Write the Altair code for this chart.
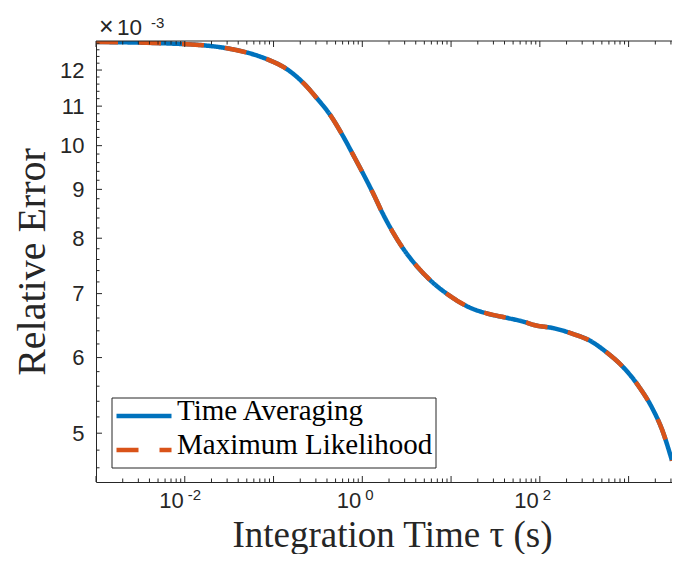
import altair as alt
import pandas as pd

# ---- data (relative error in units of 1e-3) ----
tau = [0.001, 0.00718, 0.01432, 0.0308, 0.0514, 0.0857, 0.137, 0.219, 0.308,
       0.434, 0.611, 0.789, 1.02, 1.32, 1.70, 2.19, 2.95, 4.16, 6.11, 9.33,
       15.6, 25.9, 43.4, 66.4, 85.8, 143, 239, 366, 560, 858, 1315, 1849,
       2388, 3083]
err_time_avg = [12.84, 12.79, 12.75, 12.64, 12.51, 12.31, 12.05, 11.62, 11.21,
                10.77, 10.22, 9.78, 9.35, 8.92, 8.49, 8.13, 7.78, 7.47, 7.20,
                6.98, 6.78, 6.67, 6.60, 6.54, 6.49, 6.44, 6.35, 6.25, 6.08,
                5.87, 5.59, 5.31, 5.04, 4.68]
err_max_lik = [12.84, 12.79, 12.75, 12.64, 12.51, 12.31, 12.05, 11.62, 11.21,
               10.77, 10.22, 9.78, 9.35, 8.92, 8.49, 8.13, 7.78, 7.47, 7.20,
               6.98, 6.78, 6.67, 6.60, 6.54, 6.49, 6.44, 6.35, 6.25, 6.08,
               5.87, 5.59, 5.31, 5.04, 4.68]
series_names = ["Time Averaging", "Maximum Likelihood"]
series_colors = ["#0072BD", "#D95319"]
series_dash = [[1, 0], [22, 21]]

x_domain = [1e-3, 3083]
y_domain = [4.445, 12.87]
y_tick_values = [5, 6, 7, 8, 9, 10, 11, 12]
y_minor_values = [4.6, 4.8, 5.2, 5.4, 5.6, 5.8, 6.2, 6.4, 6.6, 6.8, 7.2, 7.4, 7.6, 7.8,
                  8.2, 8.4, 8.6, 8.8, 9.2, 9.4, 9.6, 9.8, 10.2, 10.4, 10.6, 10.8,
                  11.2, 11.4, 11.6, 11.8, 12.2, 12.4, 12.6, 12.8]
x_major_values = [1e-3, 1e-2, 1e-1, 1, 10, 100, 1000]
x_minor_values = [k * 10.0 ** d for d in range(-3, 4) for k in range(2, 10)
                  if k * 10.0 ** d <= x_domain[1]]
x_label_values = [1e-2, 1, 100]
x_label_exps = ["-2", "0", "2"]

W, H = 576, 441
AX = "#262626"
SANS = "Liberation Sans"
SERIF = "Liberation Serif"

df = pd.DataFrame({
    "tau": tau * 2,
    "err": err_time_avg + err_max_lik,
    "series": [series_names[0]] * len(tau) + [series_names[1]] * len(tau),
})

xs = alt.Scale(type="log", domain=x_domain, nice=False)
ys = alt.Scale(type="log", domain=y_domain, nice=False, zero=False)
cscale = alt.Scale(domain=series_names, range=series_colors)
dscale = alt.Scale(domain=series_names, range=series_dash)
color = alt.Color("series:N", scale=cscale, legend=None)
dash = alt.StrokeDash("series:N", scale=dscale, legend=None)

x_enc = alt.X("tau:Q", scale=xs, axis=alt.Axis(
    title="Integration Time τ (s)", labels=False, ticks=False, tickSize=0, grid=False,
    domainColor=AX, titleFont=SERIF, titleFontSize=37, titleFontWeight="normal",
    titleColor=AX, titleX=296, titleY=64, titleBaseline="alphabetic", titleAlign="center"))
y_enc = alt.Y("err:Q", scale=ys, axis=alt.Axis(
    title="Relative Error", values=y_tick_values, ticks=False, tickSize=0, labelPadding=12,
    grid=False, domainColor=AX, labelFont=SANS, labelFontSize=22, labelColor=AX,
    titleFont=SERIF, titleFontSize=40, titleFontWeight="normal", titleColor=AX,
    titleX=-52, titleY=220.5, titleBaseline="alphabetic", titleAlign="center", titleAngle=270))

line_ta = alt.Chart(df).transform_filter(alt.datum.series == series_names[0]).mark_line(
    strokeWidth=4.5, clip=True, interpolate="monotone").encode(
    x=x_enc, y=y_enc, color=color, strokeDash=dash)
line_ml = alt.Chart(df).transform_filter(alt.datum.series == series_names[1]).mark_line(
    strokeWidth=4.5, clip=True, interpolate="monotone").encode(
    x=alt.X("tau:Q", scale=xs), y=alt.Y("err:Q", scale=ys), color=color, strokeDash=dash)


def xticks(vals, y0, y1):
    return alt.Chart(pd.DataFrame({"tau": vals})).mark_rule(color=AX, strokeWidth=1).encode(
        x=alt.X("tau:Q", scale=xs), y=alt.value(y0), y2=alt.value(y1))


def yticks(vals, length):
    return alt.Chart(pd.DataFrame({"err": vals})).mark_rule(color=AX, strokeWidth=1).encode(
        y=alt.Y("err:Q", scale=ys), x=alt.value(0), x2=alt.value(length))


top_line = alt.Chart(pd.DataFrame({"a": [0]})).mark_rule(color=AX, strokeWidth=1).encode(
    x=alt.value(0), x2=alt.value(W), y=alt.value(0))

lab_df = pd.DataFrame({"tau": x_label_values, "base": ["10"] * 3, "exp": x_label_exps})
lab_base = alt.Chart(lab_df).mark_text(align="right", baseline="alphabetic", dx=-1,
                                       font=SANS, fontSize=22, color=AX).encode(
    x=alt.X("tau:Q", scale=xs), y=alt.value(H + 26), text="base:N")
lab_exp = alt.Chart(lab_df).mark_text(align="left", baseline="alphabetic", dx=3,
                                      font=SANS, fontSize=15, color=AX).encode(
    x=alt.X("tau:Q", scale=xs), y=alt.value(H + 18), text="exp:N")

mult_df = pd.DataFrame({"times": ["×"], "base": ["10"], "exp": ["-3"]})
mult_times = alt.Chart(mult_df).mark_text(align="left", baseline="alphabetic",
                                          font=SANS, fontSize=25, color=AX).encode(
    x=alt.value(3), y=alt.value(-6), text="times:N")
mult_base = alt.Chart(mult_df).mark_text(align="left", baseline="alphabetic",
                                         font=SANS, fontSize=22.5, color=AX).encode(
    x=alt.value(21), y=alt.value(-6), text="base:N")
mult_exp = alt.Chart(mult_df).mark_text(align="left", baseline="alphabetic",
                                        font=SANS, fontSize=15, color=AX).encode(
    x=alt.value(55), y=alt.value(-13), text="exp:N")

# ---- legend (box, line samples, labels) ----
legend_box = alt.Chart(pd.DataFrame({"a": [0]})).mark_rect(
    fill="white", stroke=AX, strokeWidth=1).encode(
    x=alt.value(16), x2=alt.value(340), y=alt.value(357), y2=alt.value(427))
legend_layers = [legend_box]
row_line_y = [375, 409]
row_text_y = [379, 413]
for i, name in enumerate(series_names):
    ldf = pd.DataFrame({"series": [name]})
    legend_layers.append(alt.Chart(ldf).mark_rule(strokeWidth=4.5).encode(
        x=alt.value(20.5), x2=alt.value(75.5), y=alt.value(row_line_y[i]),
        color=color, strokeDash=dash))
    legend_layers.append(alt.Chart(ldf).mark_text(
        align="left", baseline="alphabetic", font=SERIF, fontSize=29, color="black").encode(
        x=alt.value(81), y=alt.value(row_text_y[i]), text="series:N"))

chart = alt.layer(
    line_ta, line_ml,
    xticks(x_major_values, H, H - 6), xticks(x_minor_values, H, H - 3.5),
    xticks(x_major_values, 0, 6), xticks(x_minor_values, 0, 3.5),
    yticks(y_tick_values, 6), yticks(y_minor_values, 3.5),
    top_line, lab_base, lab_exp, mult_times, mult_base, mult_exp,
    *legend_layers,
).properties(
    width=W, height=H,
    padding={"left": 88, "top": 33, "right": 0, "bottom": 72},
    autosize=alt.AutoSizeParams(type="none"),
).configure_view(stroke=None)

chart.save("out.html", embed_options={"renderer": "svg", "actions": False})
